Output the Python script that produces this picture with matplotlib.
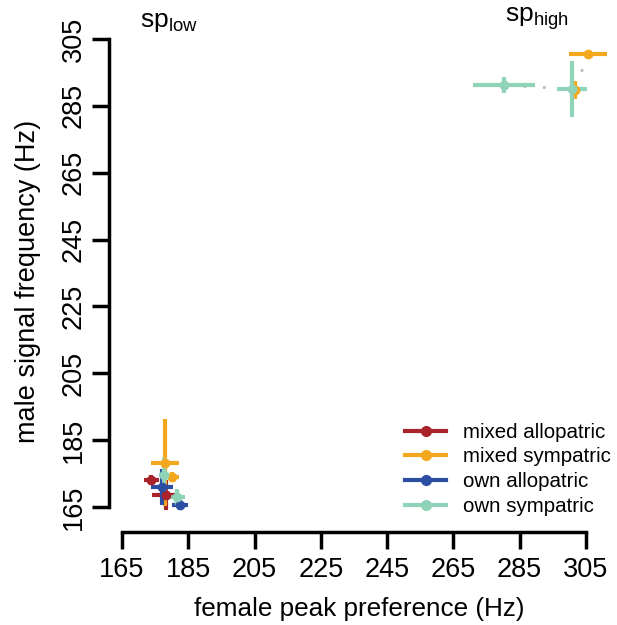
import matplotlib
matplotlib.use('Agg')
import matplotlib.pyplot as plt

plt.rcParams['font.family'] = ['Liberation Sans', 'DejaVu Sans']

# treatment groups and their colours
groups = ['mixed allopatric', 'mixed sympatric', 'own allopatric', 'own sympatric']
colors = ['#A8232A', '#F4A81D', '#2B4EA2', '#8FD3B8']

# female peak preference (x), male signal frequency (y), errors
mixed_allo_x = [173.8, 178.2]
mixed_allo_y = [173.1, 168.6]
mixed_allo_xerr = [2.3, 4.0]
mixed_allo_yerr = [1.5, 4.5]

mixed_sym_x = [178.0, 180.1, 305.6, 301.7]
mixed_sym_y = [178.2, 174.0, 300.5, 289.7]
mixed_sym_xerr = [4.2, 2.0, 5.6, 1.5]
mixed_sym_yerr = [13.0, 1.5, 0.8, 2.7]

own_allo_x = [177.1, 182.5]
own_allo_y = [171.0, 165.6]
own_allo_xerr = [3.2, 2.3]
own_allo_yerr = [5.5, 1.5]

own_sym_x = [177.7, 181.6, 280.3, 300.8]
own_sym_y = [174.6, 168.0, 291.2, 290.0]
own_sym_xerr = [1.5, 2.3, 9.4, 4.5]
own_sym_yerr = [5.2, 2.4, 2.4, 8.4]

ticks = [165, 185, 205, 225, 245, 265, 285, 305]

fig = plt.figure(figsize=(6.17, 6.25), dpi=100)
ax = fig.add_axes([109 / 617, 1 - 532 / 625, 500 / 617, 502 / 625])

# grey dotted links between sp_high means
ax.plot([own_sym_x[2], own_sym_x[3]], [own_sym_y[2], own_sym_y[3]],
        color='#BBBBBB', lw=2, ls=(0, (1, 6)), zorder=1)
ax.plot([mixed_sym_x[3], mixed_sym_x[2]], [mixed_sym_y[3], mixed_sym_y[2]],
        color='#BBBBBB', lw=2, ls=(0, (1, 6)), zorder=1)

series = [
    (mixed_allo_x, mixed_allo_y, mixed_allo_xerr, mixed_allo_yerr),
    (mixed_sym_x, mixed_sym_y, mixed_sym_xerr, mixed_sym_yerr),
    (own_allo_x, own_allo_y, own_allo_xerr, own_allo_yerr),
    (own_sym_x, own_sym_y, own_sym_xerr, own_sym_yerr),
]
for (x, y, xe, ye), name, c in zip(series, groups, colors):
    ax.errorbar(x, y, xerr=xe, yerr=ye, fmt='o', color=c, ms=6, elinewidth=3,
                capsize=0, zorder=2)
    ax.plot([], [], '-o', color=c, lw=3, ms=7, label=name)

ax.set_xlim(161.08, 311.95)
ax.set_ylim(157.52, 307.7)
ax.set_xticks(ticks)
ax.set_yticks(ticks)
ax.tick_params(labelsize=19.5, length=12, width=2.5, pad=4)
ax.tick_params(axis='x', pad=6)
plt.setp(ax.get_yticklabels(), rotation=90, va='center')
for s in ['top', 'right']:
    ax.spines[s].set_visible(False)
for s in ['left', 'bottom']:
    ax.spines[s].set_linewidth(2.5)
    ax.spines[s].set_bounds(165, 305)

ax.set_xlabel('female peak preference (Hz)', fontsize=18.8, labelpad=10)
ax.set_ylabel('male signal frequency (Hz)', fontsize=19.5, labelpad=14)

fig.text(140 / 617, 1 - 22 / 625, r'sp$_{\mathregular{low}}$', fontsize=19, va='center')
fig.text(505 / 617, 1 - 18 / 625, r'sp$_{\mathregular{high}}$', fontsize=19, va='center')

ax.legend(loc='lower right', frameon=False, fontsize=14.8, handlelength=2,
          handletextpad=0.8, labelspacing=0.28, bbox_to_anchor=(1.04, -0.005))

fig.savefig('out.png', dpi=100)
